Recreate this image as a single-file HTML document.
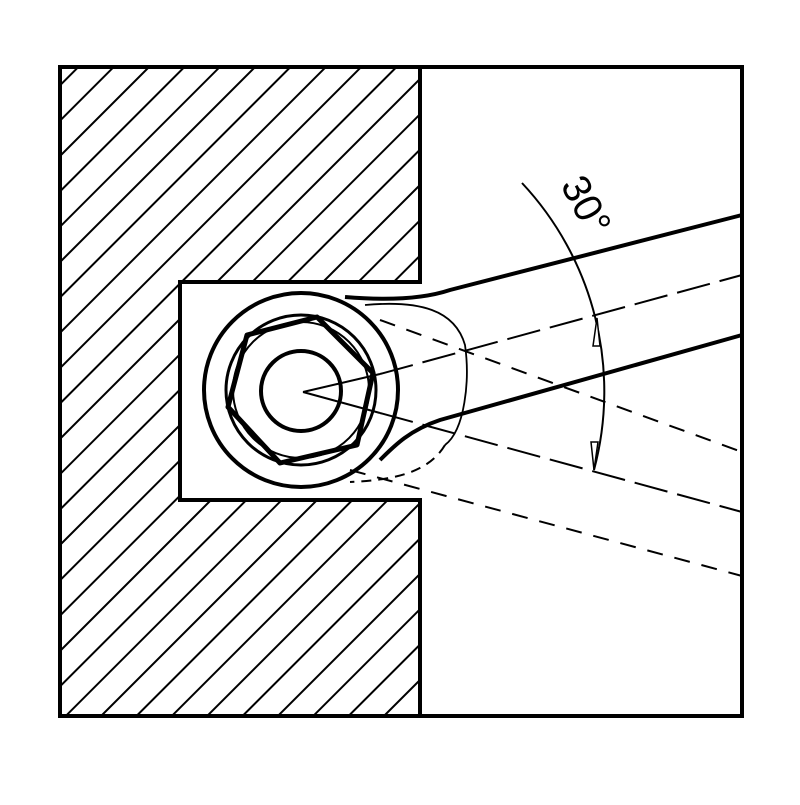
<!DOCTYPE html>
<html><head><meta charset="utf-8"><style>html,body{margin:0;padding:0;background:#fff}</style></head>
<body>
<svg width="800" height="800" viewBox="0 0 800 800" xmlns="http://www.w3.org/2000/svg">
<defs>
<pattern id="h" patternUnits="userSpaceOnUse" width="25" height="25" patternTransform="translate(2.5,0) rotate(45)">
<line x1="0" y1="-5" x2="0" y2="30" stroke="#000" stroke-width="4"/>
</pattern>
</defs>
<rect width="800" height="800" fill="#fff"/>
<path d="M60 67 H420 V282 H180 V500 H420 V716 H60 Z" fill="url(#h)"/>
<g fill="none" stroke="#000">
<rect x="60" y="67" width="682" height="649" stroke-width="4"/>
<path d="M420 67 V282 H180 V500 H420 V716" stroke-width="4"/>
<path d="M345 297 C380 300 420 300 450 290 L742 215" stroke-width="4"/>
<path d="M742 335 L440 420 C410 430 395 445 380 460" stroke-width="4"/>
<path d="M365 305 C420 300 455 310 465 345 C470 380 465 430 445 445" stroke-width="1.8"/>
<path d="M445 445 C430 470 400 480 350 482" stroke-width="2" stroke-dasharray="10 7"/>
<circle cx="301" cy="390" r="97" stroke-width="4"/>
<circle cx="301" cy="390" r="75" stroke-width="3"/>
<circle cx="301" cy="390" r="68" stroke-width="2"/>
<circle cx="301" cy="391" r="40" stroke-width="4"/>
<polygon points="247,335 317,317 373,373 357,445 280,463 228,407" stroke-width="5" stroke-linejoin="round"/>
<path d="M303 392 L380 374" stroke-width="2"/>
<path d="M303 392 L380 413" stroke-width="2"/>
<path d="M380 374 L742 275" stroke-width="2" stroke-dasharray="34 10"/>
<path d="M380 413 L742 512" stroke-width="2" stroke-dasharray="34 10"/>
<path d="M380 320 L742 452" stroke-width="2" stroke-dasharray="16 12"/>
<path d="M350 470 L742 576" stroke-width="2" stroke-dasharray="16 12"/>
<path d="M522 183 A305 305 0 0 1 594 470" stroke-width="2"/>
</g>
<polygon points="597,318 593,346 600,346" fill="#fff" stroke="#000" stroke-width="1.5"/>
<polygon points="594,470 591,442 598,442" fill="#fff" stroke="#000" stroke-width="1.5"/>
<text x="0" y="0" transform="translate(560,185) rotate(62)" font-family="Liberation Sans, sans-serif" font-size="40">30°</text>
</svg>
</body></html>
